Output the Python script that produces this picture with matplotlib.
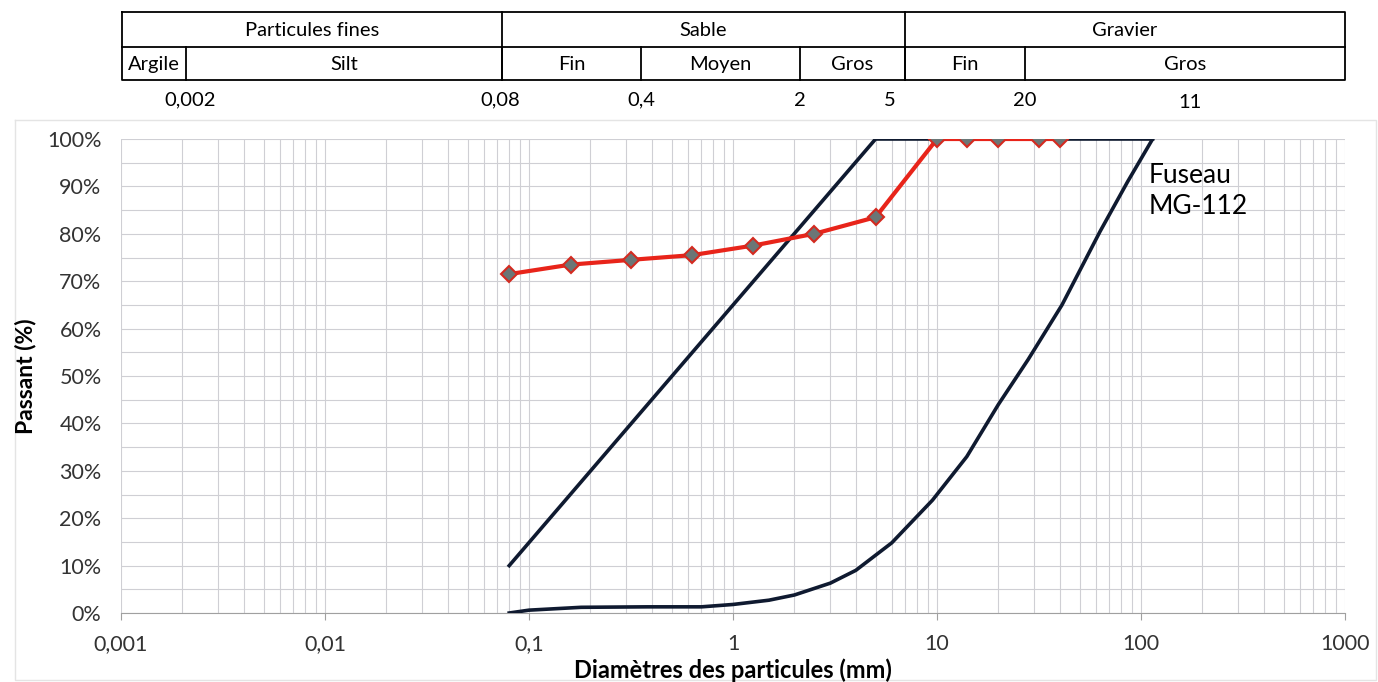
import matplotlib
matplotlib.use("Agg")
import matplotlib.pyplot as plt
from matplotlib.ticker import FixedLocator, LogLocator, NullFormatter, MultipleLocator

plt.rcParams['font.family'] = ['Lato', 'DejaVu Sans']

# granulometric curve of the sample
sample_d = [0.08, 0.16, 0.315, 0.63, 1.25, 2.5, 5, 10, 14, 20, 31.5, 40]
sample_pass = [71.5, 73.5, 74.5, 75.5, 77.5, 80, 83.5, 100, 100, 100, 100, 100]

# envelope "Fuseau MG-112"
fus_up_d = [0.08, 5, 114]
fus_up_pass = [10, 100, 100]
fus_low_d = [0.08, 0.1, 0.18, 0.38, 0.7, 1.0, 1.5, 2.0, 3.0, 4.0, 6.0, 9.5,
             14, 20, 28, 41, 63, 86, 114]
fus_low_pass = [0, 0.6, 1.2, 1.3, 1.3, 1.8, 2.7, 3.8, 6.3, 9.0, 14.8, 23.8,
                33, 44, 53.5, 65, 80.5, 91, 100]

x_ticks = [0.001, 0.01, 0.1, 1, 10, 100, 1000]
x_ticklabels = ['0,001', '0,01', '0,1', '1', '10', '100', '1000']
y_ticks = [0, 10, 20, 30, 40, 50, 60, 70, 80, 90, 100]

# classification table above the chart
row1_labels = ['Particules fines', 'Sable', 'Gravier']
row2_labels = ['Argile', 'Silt', 'Fin', 'Moyen', 'Gros', 'Fin', 'Gros']
limit_labels = ['0,002', '0,08', '0,4', '2', '5', '20', '11']

W, H = 1378, 682
fig = plt.figure(figsize=(W / 100, H / 100), dpi=100)

# overlay in pixel coordinates for the table
ov = fig.add_axes([0, 0, 1, 1])
ov.set_xlim(0, W)
ov.set_ylim(H, 0)
ov.axis('off')

tl, tr, ty0, ty1, ty2 = 122, 1345, 12, 47, 80
row1_edges = [tl, 502, 905, tr]
row2_edges = [tl, 186, 502, 641, 800, 905, 1025, tr]
ov.plot([tl, tr, tr, tl, tl], [ty0, ty0, ty2, ty2, ty0], color='black', lw=1.3)
ov.plot([tl, tr], [ty1, ty1], color='black', lw=1.3)
for xe in row1_edges[1:-1]:
    ov.plot([xe, xe], [ty0, ty2], color='black', lw=1.3)
for xe in row2_edges[1:-1]:
    ov.plot([xe, xe], [ty1, ty2], color='black', lw=1.3)
for i, lab in enumerate(row1_labels):
    ov.text((row1_edges[i] + row1_edges[i + 1]) / 2, (ty0 + ty1) / 2 + 1, lab,
            ha='center', va='center', fontsize=14.5)
for i, lab in enumerate(row2_labels):
    ov.text((row2_edges[i] + row2_edges[i + 1]) / 2, (ty1 + ty2) / 2 + 1, lab,
            ha='center', va='center', fontsize=14.5)
limit_x = [190, 500, 641, 800, 890, 1025, 1190]
limit_y = [100, 100, 100, 100, 100, 100, 103]
for xl, yl, lab in zip(limit_x, limit_y, limit_labels):
    ov.text(xl, yl, lab, ha='center', va='center', fontsize=14.5)

# faint chart frame
ov.plot([15, W - 2, W - 2, 15, 15], [120, 120, H - 2, H - 2, 120], color='#e4e4e4', lw=1)

ax = fig.add_axes([121 / W, 1 - 613 / H, (1345 - 121) / W, (613 - 139) / H])
ax.set_xscale('log')
ax.set_xlim(0.001, 1000)
ax.set_ylim(0, 100)

ax.plot(fus_up_d, fus_up_pass, color='#0f1a30', lw=2.6, zorder=3)
ax.plot(fus_low_d, fus_low_pass, color='#0f1a30', lw=2.6, zorder=3)
ax.plot(sample_d, sample_pass, color='#e8241a', lw=3, marker='D', markersize=8,
        markerfacecolor='#6b7676', markeredgecolor='#d42a20', markeredgewidth=1.5, zorder=4)

ax.xaxis.set_major_locator(FixedLocator(x_ticks))
ax.set_xticklabels(x_ticklabels)
ax.xaxis.set_minor_locator(LogLocator(base=10, subs=range(2, 10), numticks=100))
ax.xaxis.set_minor_formatter(NullFormatter())
ax.set_yticks(y_ticks)
ax.set_yticklabels([f'{v}%' for v in y_ticks])
ax.yaxis.set_minor_locator(MultipleLocator(5))

ax.grid(True, which='both', color='#cfcfd4', lw=0.8)
ax.set_axisbelow(True)
for s in ['top', 'right', 'left']:
    ax.spines[s].set_visible(False)
ax.spines['bottom'].set_color('#a0a0a0')
ax.tick_params(axis='x', which='major', length=5, color='#a0a0a0', labelsize=15.5,
               labelcolor='#333333', pad=10)
ax.tick_params(axis='x', which='minor', length=0)
ax.tick_params(axis='y', which='both', length=0, labelsize=15.5, labelcolor='#333333', pad=14)

ax.set_xlabel('Diamètres des particules (mm)', fontsize=17, fontweight='bold', labelpad=3)
ax.set_ylabel('Passant (%)', fontsize=16.5, fontweight='bold', labelpad=8)

ax.text(109, 95, 'Fuseau\nMG-112', fontsize=19, ha='left', va='top', linespacing=1.3)

fig.savefig('out.png', dpi=100)
